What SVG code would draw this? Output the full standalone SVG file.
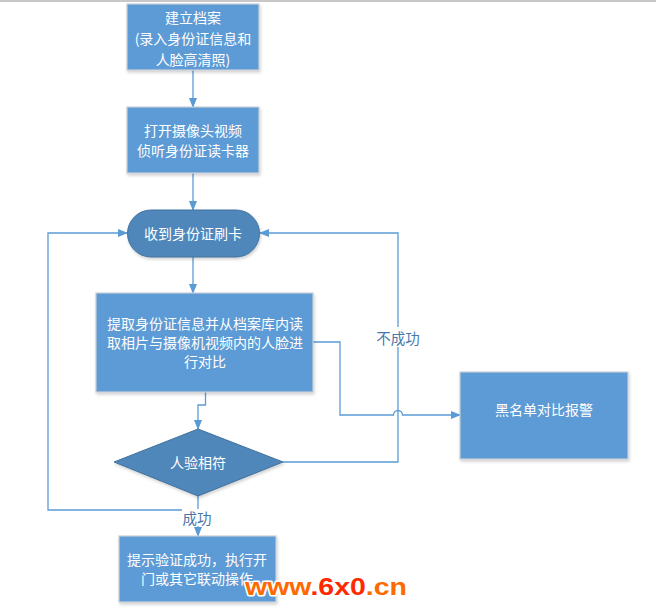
<svg xmlns="http://www.w3.org/2000/svg" width="656" height="611" viewBox="0 0 656 611">
<defs>
<marker id="ah" markerWidth="10" markerHeight="8" refX="9" refY="4" orient="auto" markerUnits="userSpaceOnUse">
<path d="M0,0 L10,4 L0,8 Z" fill="#5b9bd5"/>
</marker>
<filter id="sh" x="-10%" y="-10%" width="125%" height="130%">
<feDropShadow dx="1" dy="2" stdDeviation="1.5" flood-color="#000" flood-opacity="0.18"/>
</filter>
</defs>
<style>
.box{fill:#5b9bd5;stroke:#c9ced6;stroke-width:1.2;filter:url(#sh)}
.dark{fill:#4f87ba;stroke:#41719c;stroke-width:1;filter:url(#sh)}
.t{font-family:"Microsoft YaHei","Noto Sans CJK SC",sans-serif;font-size:14px;fill:#ffffff;text-anchor:middle;dominant-baseline:central}
.lbl{font-family:"Microsoft YaHei","Noto Sans CJK SC",sans-serif;font-size:14.5px;fill:#4778ab;text-anchor:middle;dominant-baseline:central}
.c{fill:none;stroke:#5b9bd5;stroke-width:1.3}
</style>
<rect width="656" height="611" fill="#ffffff"/>
<line x1="0" y1="1" x2="656" y2="1" stroke="#c8c8c8" stroke-width="2"/>

<g id="connectors">
<path class="c" d="M193,70 V107" marker-end="url(#ah)"/>
<path class="c" d="M193,173 V210" marker-end="url(#ah)"/>
<path class="c" d="M193,257 V293" marker-end="url(#ah)"/>
<path class="c" d="M205.5,392 V405 H198 V429" marker-end="url(#ah)"/>
<path class="c" d="M313,342 H340 V415 H393.5 A4.5,4.5 0 0 1 402.5,415 H460" marker-end="url(#ah)"/>
<path class="c" d="M283,462 H398 V233 H260" marker-end="url(#ah)"/>
<path class="c" d="M198,496 V536" marker-end="url(#ah)"/>
<path class="c" d="M198,510 H48 V233 H127" marker-end="url(#ah)"/>
<rect x="375" y="327" width="46" height="20" fill="#ffffff"/>
<text class="lbl" x="398" y="337">不成功</text>
<rect x="182" y="509" width="31" height="17" fill="#ffffff"/>
<text class="lbl" x="197" y="517">成功</text>
</g>

<g id="n1">
<rect class="box" x="127" y="4" width="132" height="66"/>
<text class="t" x="193" y="17">建立档案</text>
<text class="t" x="193" y="38">(录入身份证信息和</text>
<text class="t" x="193" y="59">人脸高清照)</text>
</g>

<g id="n2">
<rect class="box" x="127" y="107" width="132" height="66"/>
<text class="t" x="193" y="130">打开摄像头视频</text>
<text class="t" x="193" y="150">侦听身份证读卡器</text>
</g>

<g id="n3">
<rect class="dark" x="127.5" y="210" width="132" height="47" rx="23.5" ry="23.5"/>
<text class="t" x="193" y="233">收到身份证刷卡</text>
</g>

<g id="n4">
<rect class="box" x="96" y="293" width="217" height="99"/>
<text class="t" x="205" y="323">提取身份证信息并从档案库内读</text>
<text class="t" x="205" y="342">取相片与摄像机视频内的人脸进</text>
<text class="t" x="205" y="361">行对比</text>
</g>

<g id="n5">
<polygon class="dark" points="198,429 283,462 198,496 114,462"/>
<text class="t" x="198" y="462">人验相符</text>
</g>

<g id="n6">
<rect class="box" x="460" y="372" width="168" height="87"/>
<text class="t" x="544" y="409">黑名单对比报警</text>
</g>

<g id="n7">
<rect class="box" x="119" y="536" width="157" height="66"/>
<text class="t" x="197" y="559">提示验证成功，执行开</text>
<text class="t" x="197" y="578">门或其它联动操作</text>
</g>

<text x="245" y="595" textLength="162" lengthAdjust="spacingAndGlyphs" font-family="'Liberation Sans',Arial,sans-serif" font-weight="bold" font-size="23" stroke="#ffffff" stroke-width="3" paint-order="stroke" stroke-linejoin="round"><tspan fill="#ff6a00">www</tspan><tspan fill="#ff2a00">.6x0</tspan><tspan fill="#ff6a00">.cn</tspan></text>
</svg>
